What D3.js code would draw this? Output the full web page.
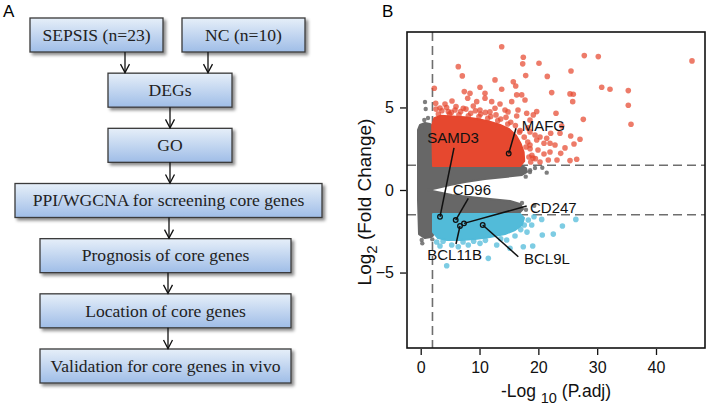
<!DOCTYPE html>
<html><head><meta charset="utf-8">
<script src="https://cdn.jsdelivr.net/npm/d3@7"></script>
<style>body{margin:0;background:#fff}svg{display:block}</style>
</head><body>
<svg id="c" width="708" height="405"></svg>
<script>
// ---------- Panel A data ----------
const steps = ["SEPSIS (n=23)", "NC (n=10)", "DEGs", "GO",
  "PPI/WGCNA for screening core genes", "Prognosis of core genes",
  "Location of core genes", "Validation for core genes in vivo"];
const stepRow = [0, 0, 1, 2, 3, 4, 5, 6];
const links = [[0, 2], [1, 2], [2, 3], [3, 4], [4, 5], [5, 6], [6, 7]];

// ---------- Panel B data ----------
const xTicks = [0, 10, 20, 30, 40];
const yTicks = [-5, 0, 5];
const pThreshold = 2;      // -log10(P.adj)
const fcThreshold = 1.5;   // |log2 FC|

// dense clouds (outline of the overplotted mass), [x, y]
const nsCloud = [[-0.46,3.64],[-0.12,3.94],[0.73,4.06],[1.58,4.0],[2.26,3.76],[2.26,1.52],[16.88,1.52],[17.9,1.33],[18.07,1.09],[17.22,0.91],[14.33,0.79],[10.93,0.67],[7.53,0.48],[4.98,0.30],[2.77,0.12],[1.24,0.0],[2.77,-0.12],[5.32,-0.30],[8.38,-0.42],[11.78,-0.55],[15.18,-0.67],[16.88,-0.85],[17.39,-1.15],[16.54,-1.48],[2.6,-1.58],[2.6,-2.55],[1.75,-2.85],[0.73,-2.91],[-0.29,-2.67],[-0.46,-0.6],[-0.46,1.8]];
const upCloud = [[2.09,1.45],[16.88,1.45],[17.6,1.75],[17.5,2.3],[17.0,2.8],[16.2,3.3],[15.0,3.7],[13.4,3.95],[11.6,4.15],[9.6,4.3],[7.5,4.4],[5.4,4.45],[3.4,4.5],[2.3,4.35],[1.95,3.9]];
const downCloud = [[2.09,-1.45],[16.88,-1.45],[17.56,-1.7],[17.22,-2.12],[16.03,-2.42],[14.33,-2.67],[11.78,-2.85],[9.23,-2.97],[6.68,-3.03],[4.47,-3.03],[2.94,-2.91],[2.09,-2.55]];

// individually visible points
const nsX = [0.73,0.85,0.61,0.85,1.24,20.67,21.42,17.85,19.43,18.58,17.22,0.17,0.27,1.75,1.97,18.6,19.3,17.9];
const nsY = [5.33,4.91,4.24,3.76,4.36,1.35,1.05,0.81,1.33,1.09,-0.79,-3.03,-3.23,-2.62,-2.99,1.2,-0.95,-1.2];

const upX = [13.77,6.39,7.07,17.44,17.34,20.11,17.85,21.52,25.55,27.81,30.19,46.12,30.77,32.18,35.29,35.29,35.75,25.38,25.94,25.84,27.64,22.27,15.74,16.15,12.63,13.77,2.31,2.55,23.0,23.97,25.5,27.08,26.06,23.8,21.69,25.38,26.52,20.96,19.72,20.96,22.1,18.02,19.72,10.08,7.41,10.93,16.32,17.17,17.73,19.14,16.32,7.99,9.52,10.93,12.07,8.38,4.69,5.83,7.24,8.94,12.63,14.33,15.47,3.28,4.13,5.32,10.08,11.78,13.48,14.84,16.54,18.58,18.24,19.43,18.58,19.94,19.09,20.28,22.83,21.98,24.53,23.17,18.58,20.28,21.42,21.98,23.68,
  2.6,3.6,4.4,5.2,6.0,6.8,7.7,8.5,9.3,10.2,11.0,11.9,12.8,13.6,14.5,15.3,16.1,16.9,17.6,18.2,18.6,18.9,18.7,19.5,3.0,4.9,6.5,8.1,9.9,11.4,13.1,14.8,16.8,17.9,18.4];
const upY = [8.68,7.47,6.91,8.04,7.64,7.68,6.93,6.88,7.21,8.14,8.08,7.82,6.22,6.10,6.02,5.13,3.98,5.82,5.80,5.35,4.28,5.90,6.56,6.30,6.67,6.10,6.16,5.25,4.65,3.88,3.27,3.07,2.79,2.22,1.82,1.78,1.86,2.18,3.03,2.83,3.44,4.65,4.75,6.22,5.96,5.86,5.76,5.76,5.45,4.55,4.48,5.56,5.35,5.56,5.35,5.86,4.75,4.85,4.95,5.09,4.95,4.85,5.35,4.97,5.21,5.39,4.85,4.73,5.21,4.73,4.85,4.24,3.76,3.33,2.73,2.42,1.94,1.70,2.73,2.30,2.55,1.82,3.52,3.21,3.13,2.83,3.44,
  4.9,4.8,5.0,4.7,5.05,4.75,4.9,4.65,4.8,4.6,4.7,4.45,4.55,4.3,4.4,4.1,3.9,3.6,3.2,2.9,2.5,2.1,1.7,1.9,4.6,4.6,4.55,4.5,4.45,4.35,4.2,4.0,3.5,2.6,2.0];

const downX = [26.37,24.09,22.54,20.67,19.04,17.44,19.26,18.29,17.61,20.57,18.87,11.49,4.42,2.72,5.27,6.39,8.09,10.08,12.92,14.62,15.18,3.28,16.03,18.07,3.8,7.2,9.0,11.0,13.6,17.0];
const downY = [-1.78,-2.18,-2.67,-2.73,-3.39,-3.44,-1.62,-1.82,-2.12,-1.78,-2.12,-4.14,-4.59,-3.15,-3.33,-3.44,-3.33,-3.23,-3.33,-3.03,-3.53,-3.39,-2.79,-2.55,-3.1,-3.15,-3.1,-3.05,-2.95,-2.4];

// highlighted genes
const genes  = ["MAFG", "SAMD3", "CD96", "CD247", "BCL11B", "BCL9L"];
const geneX  = [14.96, 3.28, 5.95, 7.36, 6.68, 10.54];
const geneY  = [2.21, -1.62, -1.82, -2.02, -2.18, -2.12];
const leadX  = [16.2, 5.66, 8.09, 18.02, 6.0, 16.59];
const leadY  = [3.74, 2.55, -0.50, -0.97, -3.27, -4.04];
const labX   = [17.17, 1.12, 5.44, 18.58, 1.12, 17.56];
const labY   = [3.59, 2.83, -0.30, -1.41, -4.24, -4.48];

// ---------- drawing ----------
const svg = d3.select("#c");
const defs = svg.append("defs");
const grad = defs.append("linearGradient").attr("id","bx").attr("x1",0).attr("y1",0).attr("x2",0).attr("y2",1);
grad.append("stop").attr("offset","0%").attr("stop-color","#e6eff9");
grad.append("stop").attr("offset","100%").attr("stop-color","#9fbde7");
const f = defs.append("filter").attr("id","sh").attr("x","-10%").attr("y","-20%").attr("width","130%").attr("height","160%");
f.append("feDropShadow").attr("dx",2.5).attr("dy",2.5).attr("stdDeviation",1.4).attr("flood-color","#000").attr("flood-opacity",0.45);

// Panel A
svg.append("text").attr("x",3).attr("y",17).attr("font-family","Liberation Sans, Arial, sans-serif").attr("font-size",17).text("A");
const rowY = d3.scaleLinear().domain([0,6]).range([18,349]);
const boxH = 34;
const boxLayout = [[30,133],[182,123],[108,124],[108,124],[15,307],[40,251],[40,251],[40,251]];
const arrowX = [125,208,170,170,169,168,168];

const gA = svg.append("g");
steps.forEach((s,i)=>{
  const [bx,bw] = boxLayout[i];
  const by = rowY(stepRow[i]);
  gA.append("rect").attr("x",bx).attr("y",by).attr("width",bw).attr("height",boxH)
    .attr("fill","url(#bx)").attr("stroke","#3a3a3a").attr("stroke-width",1.3).attr("filter","url(#sh)");
  gA.append("text").attr("x",bx+bw/2).attr("y",by+boxH/2+5.8).attr("text-anchor","middle")
    .attr("font-family","Liberation Serif, Times New Roman, serif").attr("font-size",17.6).attr("fill","#222").text(s);
});
links.forEach(([a,b],i)=>{
  const x = arrowX[i];
  const y1 = rowY(stepRow[a])+boxH, y2 = rowY(stepRow[b]);
  gA.append("line").attr("x1",x).attr("x2",x).attr("y1",y1).attr("y2",y2-0.5).attr("stroke","#111").attr("stroke-width",1.3);
  gA.append("polyline").attr("points",`${x-4.5},${y2-9} ${x},${y2-0.5} ${x+4.5},${y2-9}`)
    .attr("fill","none").attr("stroke","#111").attr("stroke-width",1.3);
});

// Panel B
const SANS = "Liberation Sans, Arial, sans-serif";
svg.append("text").attr("x",382).attr("y",17).attr("font-family",SANS).attr("font-size",17).text("B");
const L=407, R=705, T=32, B=348;
const x = d3.scaleLinear().domain([-2.33,48.33]).range([L,R]);
const y = d3.scaleLinear().domain([-9.57,9.57]).range([B,T]);
const gB = svg.append("g");
const clip = defs.append("clipPath").attr("id","pc");
clip.append("rect").attr("x",L).attr("y",T).attr("width",R-L).attr("height",B-T);
const plot = gB.append("g").attr("clip-path","url(#pc)");

const dash = {"stroke":"#6e6e6e","stroke-width":1.6,"stroke-dasharray":"9,5"};
function applyAttrs(sel,o){Object.entries(o).forEach(([k,v])=>sel.attr(k,v));return sel;}
applyAttrs(plot.append("line").attr("x1",x(pThreshold)).attr("x2",x(pThreshold)).attr("y1",T).attr("y2",B),dash);
[fcThreshold,-fcThreshold].forEach(v=>applyAttrs(plot.append("line").attr("x1",L).attr("x2",R).attr("y1",y(v)).attr("y2",y(v)),dash));

const line = d3.line().x(d=>x(d[0])).y(d=>y(d[1])).curve(d3.curveLinearClosed);
const GRAY="#676767", RED="#e6482f", BLUE="#52bbd9";
plot.append("path").attr("d",line(nsCloud)).attr("fill",GRAY).attr("stroke",GRAY).attr("stroke-width",2).attr("stroke-linejoin","round");
plot.selectAll(".ns").data(nsX.map((v,i)=>[v,nsY[i]])).join("circle")
  .attr("cx",d=>x(d[0])).attr("cy",d=>y(d[1])).attr("r",2.2).attr("fill",GRAY).attr("opacity",0.85);
plot.append("path").attr("d",line(upCloud)).attr("fill",RED).attr("stroke",RED).attr("stroke-width",2).attr("stroke-linejoin","round");
plot.selectAll(".up").data(upX.map((v,i)=>[v,upY[i]])).join("circle")
  .attr("cx",d=>x(d[0])).attr("cy",d=>y(d[1])).attr("r",2.8).attr("fill",RED).attr("opacity",0.72);
plot.append("path").attr("d",line(downCloud)).attr("fill",BLUE).attr("stroke",BLUE).attr("stroke-width",2).attr("stroke-linejoin","round");
plot.selectAll(".dn").data(downX.map((v,i)=>[v,downY[i]])).join("circle")
  .attr("cx",d=>x(d[0])).attr("cy",d=>y(d[1])).attr("r",2.8).attr("fill",BLUE).attr("opacity",0.75);

genes.forEach((g,i)=>{
  plot.append("line").attr("x1",x(geneX[i])).attr("y1",y(geneY[i])).attr("x2",x(leadX[i])).attr("y2",y(leadY[i]))
    .attr("stroke","#111").attr("stroke-width",1.5);
  plot.append("circle").attr("cx",x(geneX[i])).attr("cy",y(geneY[i])).attr("r",2.3)
    .attr("fill","none").attr("stroke","#111").attr("stroke-width",1.3);
  plot.append("text").attr("x",x(labX[i])).attr("y",y(labY[i])).attr("font-family",SANS).attr("font-size",15).attr("fill","#111").text(g);
});

gB.append("rect").attr("x",L).attr("y",T).attr("width",R-L).attr("height",B-T).attr("fill","none").attr("stroke","#111").attr("stroke-width",1.6);

const xa = gB.append("g").attr("transform",`translate(0,${B+1})`)
  .call(d3.axisBottom(x).tickValues(xTicks).tickSize(6).tickPadding(6.6));
const ya = gB.append("g").attr("transform",`translate(${L-1},0)`)
  .call(d3.axisLeft(y).tickValues(yTicks).tickSize(6).tickPadding(6).tickFormat(d3.format("d")));
[xa,ya].forEach(a=>{
  a.select(".domain").remove();
  a.selectAll("line").attr("stroke","#111").attr("stroke-width",1.3);
  a.selectAll("text").attr("font-family",SANS).attr("font-size",16).attr("fill","#111");
});

const xt = gB.append("text").attr("x",(L+R)/2).attr("y",397).attr("text-anchor","middle").attr("font-family",SANS).attr("font-size",17.5).attr("fill","#111");
xt.append("tspan").text("-Log ");
xt.append("tspan").attr("font-size",14.5).attr("dy",6).text("10");
xt.append("tspan").attr("dy",-6).text(" (P.adj)");

const yt = gB.append("text").attr("transform","translate(371,202) rotate(-90)").attr("text-anchor","middle").attr("font-family",SANS).attr("font-size",19).attr("fill","#111");
yt.append("tspan").text("Log");
yt.append("tspan").attr("font-size",15).attr("dy",5.5).text("2");
yt.append("tspan").attr("dy",-5.5).text(" (Fold Change)");
</script>
</body></html>
